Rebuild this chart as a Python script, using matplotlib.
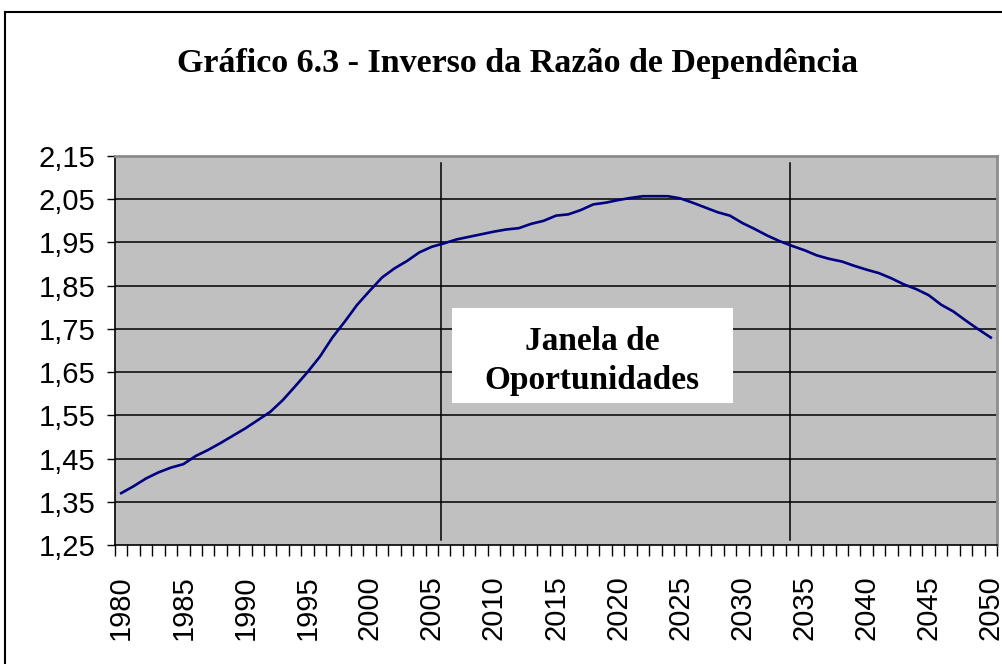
import matplotlib
matplotlib.use("Agg")
import matplotlib.pyplot as plt
from matplotlib.lines import Line2D
from matplotlib.patches import Rectangle
from matplotlib.ticker import FixedLocator, FuncFormatter

# Inverso da razão de dependência, 1980-2050
anos = list(range(1980, 2051))
razao = [
    1.370, 1.386, 1.404, 1.418, 1.429, 1.437, 1.456, 1.470, 1.486, 1.503,
    1.520, 1.539, 1.558, 1.585, 1.617, 1.650, 1.686, 1.730, 1.767, 1.806,
    1.838, 1.869, 1.890, 1.907, 1.927, 1.940, 1.948, 1.957, 1.963, 1.969,
    1.975, 1.980, 1.983, 1.993, 2.000, 2.012, 2.015, 2.025, 2.038, 2.042,
    2.048, 2.053, 2.057, 2.057, 2.057, 2.052, 2.042, 2.031, 2.020, 2.012,
    1.995, 1.981, 1.966, 1.953, 1.942, 1.932, 1.920, 1.912, 1.906, 1.896,
    1.887, 1.879, 1.867, 1.853, 1.842, 1.828, 1.806, 1.790, 1.769, 1.749,
    1.730,
]
rotulos_x = list(range(1980, 2051, 5))
ticks_y = [1.25, 1.35, 1.45, 1.55, 1.65, 1.75, 1.85, 1.95, 2.05, 2.15]
limites_janela = [2005.75, 2033.8]

titulo = "Gráfico 6.3 - Inverso da Razão de Dependência"
texto_janela = "Janela de\nOportunidades"

serif = ["Liberation Serif", "DejaVu Serif"]
sans = ["Liberation Sans", "DejaVu Sans"]

fig = plt.figure(figsize=(10.03, 6.64), dpi=100)
ax = fig.add_axes([115 / 1003, 1 - 545 / 664, 882 / 1003, 389 / 664])
ax.set_facecolor("#c0c0c0")

# moldura externa (só topo e lado esquerdo aparecem)
fig.add_artist(Line2D([5 / 1003, 5 / 1003], [0, 1 - 12 / 664], color="black", lw=1.5,
                      transform=fig.transFigure))
fig.add_artist(Line2D([5 / 1003, 1], [1 - 12 / 664, 1 - 12 / 664], color="black", lw=1.5,
                      transform=fig.transFigure))

fig.text(0.516, 1 - 72 / 664, titulo, ha="center", va="baseline", fontsize=24.5,
         fontweight="bold", family=serif)

ax.set_xlim(1979.5, 2050.5)
ax.set_ylim(1.25, 2.15)

for y in ticks_y[1:-1]:
    ax.axhline(y, color="black", lw=1.1, zorder=1)

for x in limites_janela:
    ax.axvline(x, ymin=0.013, ymax=0.982, color="black", lw=1.1, zorder=2)

ax.plot(anos, razao, color="#000080", lw=1.9, zorder=3)

ax.add_patch(Rectangle((0.382, 0.365), 0.3186, 0.244, transform=ax.transAxes,
                       facecolor="white", edgecolor="none", zorder=4))
ax.text(0.541, 0.473, texto_janela, transform=ax.transAxes, ha="center", va="center",
        fontsize=24, fontweight="bold", family=serif, linespacing=1.3, zorder=5)

# eixos
for lado in ["top", "right"]:
    ax.spines[lado].set_color("#8c8c8c")
    ax.spines[lado].set_linewidth(2)
ax.spines["left"].set_color("black")
ax.spines["bottom"].set_color("black")
ax.spines["left"].set_linewidth(1.2)
ax.spines["bottom"].set_linewidth(1.2)

ax.set_yticks(ticks_y)
ax.yaxis.set_major_formatter(FuncFormatter(lambda v, p: f"{v:.2f}".replace(".", ",")))
ax.tick_params(axis="y", direction="out", length=6, width=1, pad=8, labelsize=21)

ax.set_xticks(rotulos_x)
ax.set_xticklabels([str(a) for a in rotulos_x], rotation=90)
ax.xaxis.set_minor_locator(FixedLocator([a - 0.5 for a in anos] + [2050.5]))
ax.tick_params(axis="x", which="major", length=0, pad=22, labelsize=21)
ax.tick_params(axis="x", which="minor", direction="out", length=8, width=1)

for lbl in ax.get_xticklabels() + ax.get_yticklabels():
    lbl.set_family(sans)

fig.savefig("out.png", dpi=100)
